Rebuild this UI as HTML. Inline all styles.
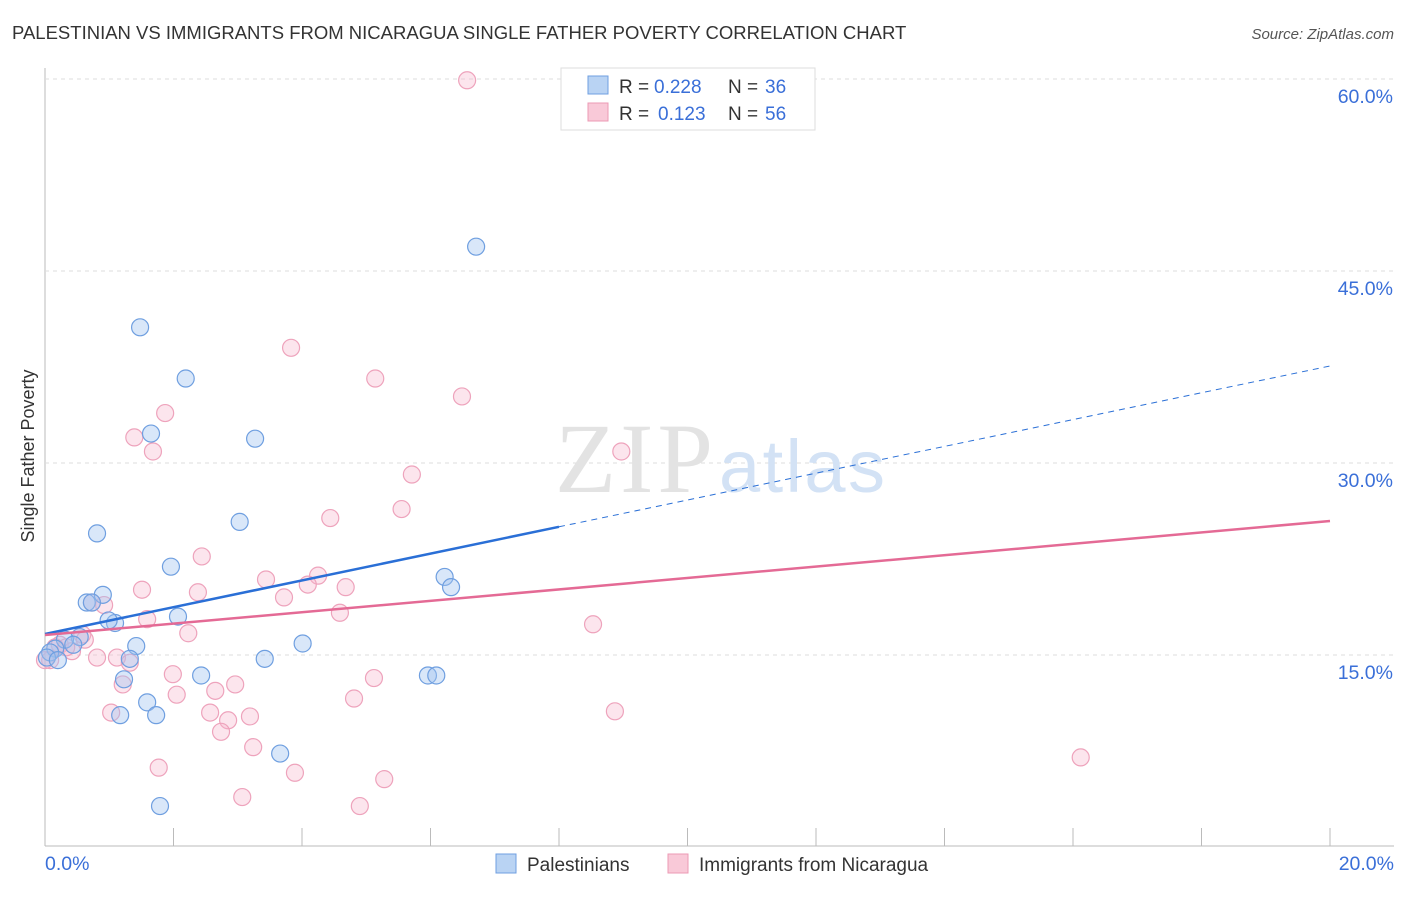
<!DOCTYPE html>
<html><head><meta charset="utf-8"><style>
body{margin:0;background:#fff;font-family:"Liberation Sans",sans-serif;}
svg text{font-family:"Liberation Sans",sans-serif;}
</style></head><body>
<svg id="chart" width="1406" height="892">
<text x="12" y="39" font-size="18.5" fill="#333">PALESTINIAN VS IMMIGRANTS FROM NICARAGUA SINGLE FATHER POVERTY CORRELATION CHART</text>
<text x="1394" y="39" font-size="15" fill="#555" font-style="italic" text-anchor="end">Source: ZipAtlas.com</text>
<text x="0" y="0" font-size="18" fill="#333" transform="translate(34,456) rotate(-90)" text-anchor="middle">Single Father Poverty</text>
<g id="grid"></g>
<text x="634" y="492" font-size="100" fill="#e3e3e3" style="font-family:'Liberation Serif',serif" text-anchor="middle" textLength="158">ZIP</text>
<text x="802" y="492" font-size="74" fill="#d3e2f5" text-anchor="middle" textLength="166">atlas</text>
<g id="pts"></g><g id="lines"></g>
<g>
<rect x="561" y="68" width="254" height="62" fill="#fff" stroke="#ddd"/>
<rect x="588" y="76" width="20" height="18" fill="#b9d3f3" stroke="#6f9fe0"/>
<rect x="588" y="103" width="20" height="18" fill="#f9c9d8" stroke="#ec9ab4"/>
<text x="619" y="93" font-size="19" fill="#333">R =</text><text x="654" y="93" font-size="19" fill="#3a6fd8">0.228</text>
<text x="728" y="93" font-size="19" fill="#333">N =</text><text x="765" y="93" font-size="19" fill="#3a6fd8">36</text>
<text x="619" y="120" font-size="19" fill="#333">R =</text><text x="658" y="120" font-size="19" fill="#3a6fd8">0.123</text>
<text x="728" y="120" font-size="19" fill="#333">N =</text><text x="765" y="120" font-size="19" fill="#3a6fd8">56</text>
</g>
<g>
<rect x="496" y="854" width="20" height="19" fill="#b9d3f3" stroke="#6f9fe0"/>
<text x="527" y="871" font-size="19" fill="#333">Palestinians</text>
<rect x="668" y="854" width="20" height="19" fill="#f9c9d8" stroke="#ec9ab4"/>
<text x="699" y="871" font-size="19" fill="#333">Immigrants from Nicaragua</text>
</g>
</svg>
<script>
const xTicks=[0,20];
const yTicks=[15,30,45,60];
const blueX=[6.71,1.48,2.19,1.65,3.27,3.03,0.81,1.96,6.22,6.32,0.90,0.65,0.73,1.09,0.99,2.07,1.42,4.01,0.54,0.31,0.44,0.16,0.08,0.03,0.20,1.32,3.42,2.43,1.23,5.96,6.09,1.59,1.17,1.73,3.66,1.79];
const blueY=[46.9,40.6,36.6,32.3,31.9,25.4,24.5,21.9,21.1,20.3,19.7,19.1,19.1,17.5,17.7,18.0,15.7,15.9,16.4,16.2,15.8,15.5,15.2,14.8,14.6,14.7,14.7,13.4,13.1,13.4,13.4,11.3,10.3,10.3,7.3,3.2];
const pinkX=[6.57,3.83,5.14,6.49,1.87,1.39,1.68,8.97,5.71,5.55,4.44,2.44,3.44,4.25,4.68,4.09,1.51,2.38,3.72,0.92,0.73,4.59,1.59,8.53,0.58,2.23,0.23,0.42,0.81,1.12,1.32,0.08,1.99,5.12,1.21,2.96,2.05,2.65,4.81,1.03,2.57,3.19,8.87,2.85,2.74,3.24,16.12,1.77,3.89,5.28,3.07,4.90,0.16,0,0.33,0.62];
const pinkY=[59.9,39.0,36.6,35.2,33.9,32.0,30.9,30.9,29.1,26.4,25.7,22.7,20.9,21.2,20.3,20.5,20.1,19.9,19.5,18.9,19.1,18.3,17.8,17.4,16.6,16.7,15.8,15.3,14.8,14.8,14.4,14.6,13.5,13.2,12.7,12.7,11.9,12.2,11.6,10.5,10.5,10.2,10.6,9.9,9.0,7.8,7.0,6.2,5.8,5.3,3.9,3.2,15.6,14.6,15.6,16.2];
const blueLine=[16.64,37.58], pinkLine=[16.56,25.47], blueSolidEnd=8.0;
const X=v=>45+v/20*1285, Y=v=>847-v*12.8;
const NS="http://www.w3.org/2000/svg";
function mk(t,a,p){const e=document.createElementNS(NS,t);for(const k in a)e.setAttribute(k,a[k]);p.appendChild(e);return e;}
const g=document.getElementById('grid');
mk('line',{x1:45,y1:68,x2:45,y2:846,stroke:'#bbb'},g);
mk('line',{x1:45,y1:846,x2:1394,y2:846,stroke:'#bbb'},g);
for(let i=0;i<=10;i++){const l=mk('line',{x1:45+i*128.5,y1:828,x2:45+i*128.5,y2:846,stroke:'#bbb'},g);

}
yTicks.forEach(v=>{const l=mk('line',{x1:45,y1:Y(v),x2:1394,y2:Y(v),stroke:'#ddd','stroke-dasharray':'4,4'},g);


const t=mk('text',{x:1393,y:Y(v)+24,'font-size':19.5,fill:'#3a6fd8','text-anchor':'end'},g);t.textContent=v.toFixed(1)+'%';

});
xTicks.forEach(v=>{const t=mk('text',{x:v==0?45:1394,y:870,'font-size':19.5,fill:'#3a6fd8','text-anchor':v==0?'start':'end'},g);t.textContent=v.toFixed(1)+'%';

});
const p=document.getElementById('pts');
pinkX.forEach((x,i)=>{const c=mk('circle',{cx:X(x),cy:Y(pinkY[i]),r:8.5,fill:'rgba(246,180,202,0.35)',stroke:'#eea3bc','stroke-width':1.2},p);

});
blueX.forEach((x,i)=>{const c=mk('circle',{cx:X(x),cy:Y(blueY[i]),r:8.5,fill:'rgba(160,196,240,0.4)',stroke:'#6f9fe0','stroke-width':1.2},p);

});
const L=document.getElementById('lines');
const by=x=>blueLine[0]+(blueLine[1]-blueLine[0])*x/20;
let a=mk('line',{x1:X(0),y1:Y(by(0)),x2:X(blueSolidEnd),y2:Y(by(blueSolidEnd)),stroke:'#2a6fd6','stroke-width':2.5},L);


a=mk('line',{x1:X(blueSolidEnd),y1:Y(by(blueSolidEnd)),x2:X(20),y2:Y(by(20)),stroke:'#2a6fd6','stroke-width':1,'stroke-dasharray':'6,5'},L);


a=mk('line',{x1:X(0),y1:Y(pinkLine[0]),x2:X(20),y2:Y(pinkLine[1]),stroke:'#e46a95','stroke-width':2.5},L);


</script>
</body></html>
